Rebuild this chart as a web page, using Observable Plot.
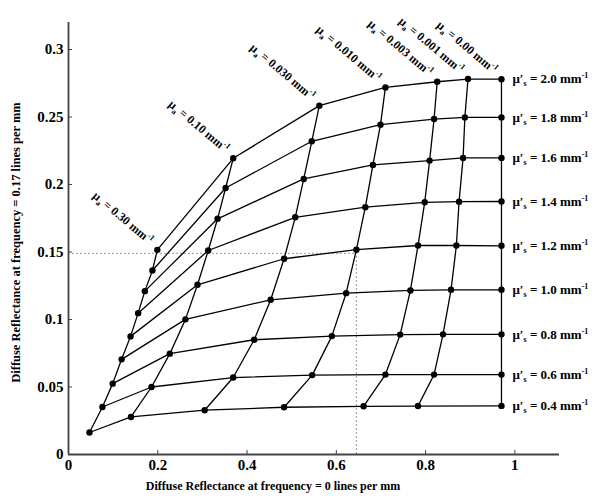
<!DOCTYPE html>
<html><head><meta charset="utf-8">
<script src="https://cdn.jsdelivr.net/npm/d3@7"></script>
<script src="https://cdn.jsdelivr.net/npm/@observablehq/plot@0.6"></script>
<style>body{margin:0;background:#fff}</style>
</head><body><div id="chart"></div>
<script>
// Reduced scattering coefficients (rows) and absorption coefficients (columns)
const muspValues = [0.4, 0.6, 0.8, 1.0, 1.2, 1.4, 1.6, 1.8, 2.0];
const muaLabels = ["0.30", "0.10", "0.030", "0.010", "0.003", "0.001", "0.00"];

// Diffuse reflectance at 0 lines/mm (x) and at 0.17 lines/mm (y), per mu_a column, mu's from 0.4 to 2.0
const x_mua030 = [0.047, 0.076, 0.099, 0.119, 0.139, 0.156, 0.171, 0.188, 0.199];
const y_mua030 = [0.0163, 0.0352, 0.0525, 0.0705, 0.0875, 0.1047, 0.121, 0.1363, 0.1516];
const x_mua010 = [0.140, 0.186, 0.227, 0.262, 0.289, 0.313, 0.334, 0.352, 0.369];
const y_mua010 = [0.0278, 0.050, 0.0747, 0.1001, 0.1257, 0.1511, 0.1746, 0.1974, 0.2194];
const x_mua0030 = [0.305, 0.369, 0.416, 0.453, 0.483, 0.508, 0.527, 0.545, 0.562];
const y_mua0030 = [0.0328, 0.057, 0.0850, 0.1146, 0.145, 0.1757, 0.2041, 0.232, 0.2584];
const x_mua0010 = [0.483, 0.546, 0.590, 0.622, 0.645, 0.665, 0.682, 0.699, 0.710];
const y_mua0010 = [0.0350, 0.0588, 0.0877, 0.1195, 0.1517, 0.1832, 0.2145, 0.2443, 0.2719];
const x_mua0003 = [0.661, 0.710, 0.743, 0.766, 0.783, 0.798, 0.809, 0.819, 0.826];
const y_mua0003 = [0.0357, 0.0592, 0.0888, 0.1215, 0.1548, 0.1868, 0.2177, 0.2485, 0.2761];
const x_mua0001 = [0.783, 0.819, 0.839, 0.857, 0.869, 0.875, 0.884, 0.888, 0.895];
const y_mua0001 = [0.0359, 0.0592, 0.089, 0.122, 0.1548, 0.1873, 0.2197, 0.2497, 0.2781];
const x_mua0000 = [0.970, 0.970, 0.970, 0.970, 0.970, 0.970, 0.970, 0.970, 0.970];
const y_mua0000 = [0.036, 0.0592, 0.089, 0.122, 0.1546, 0.1874, 0.2197, 0.2497, 0.278];

const xTicks = [0, 0.2, 0.4, 0.6, 0.8, 1];
const yTicks = [0, 0.05, 0.1, 0.15, 0.2, 0.25, 0.3];
const crossX = 0.645, crossY = 0.149;
const xTitle = "Diffuse Reflectance at frequency = 0 lines per mm";
const yTitle = "Diffuse Reflectance at frequency = 0.17 lines per mm";

const xCols = [x_mua030, x_mua010, x_mua0030, x_mua0010, x_mua0003, x_mua0001, x_mua0000];
const yCols = [y_mua030, y_mua010, y_mua0030, y_mua0010, y_mua0003, y_mua0001, y_mua0000];
const grid = [];
muaLabels.forEach((mua, i) => muspValues.forEach((musp, j) =>
  grid.push({mua, musp, x: xCols[i][j], y: yCols[i][j]})));

const plot = Plot.plot({
  width: 600, height: 496,
  marginLeft: 68, marginRight: 41, marginTop: 22, marginBottom: 42,
  style: {fontFamily: "'Liberation Serif', 'Times New Roman', serif", fontWeight: "bold", fontSize: "15px", background: "#fff", color: "#000"},
  x: {domain: [0, 1.1]},
  y: {domain: [0, 0.32]},
  marks: [
    Plot.ruleY([crossY], {x1: 0, x2: crossX, stroke: "#999", strokeDasharray: "2,2", strokeWidth: 1}),
    Plot.ruleX([crossX], {y1: 0, y2: crossY, stroke: "#999", strokeDasharray: "2,2", strokeWidth: 1}),
    Plot.line(grid, {x: "x", y: "y", z: "musp", stroke: "#000", strokeWidth: 1.3}),
    Plot.line(grid, {x: "x", y: "y", z: "mua", stroke: "#000", strokeWidth: 1.3}),
    Plot.dot(grid, {x: "x", y: "y", r: 3.2, fill: "#000", stroke: "none"}),
    Plot.text(grid.filter(d => d.mua === "0.00"), {x: "x", y: "y",
      text: d => `μ′s = ${d.musp.toFixed(1)} mm-1`, textAnchor: "start", dx: 11, fontSize: 13}),
    Plot.text(grid.filter(d => d.musp === 2.0), {x: "x", y: "y",
      text: d => `μa = ${d.mua} mm-1`, rotate: 40, textAnchor: "end", dx: -6, dy: -8, fontSize: 12}),
    Plot.ruleX([0], {stroke: "#444", strokeWidth: 1.8}),
    Plot.ruleY([0], {stroke: "#444", strokeWidth: 1.8}),
    Plot.axisX(xTicks, {tickSize: -4, tickPadding: 9, tickFormat: d => String(d), label: null, stroke: "#444"}),
    Plot.axisY(yTicks, {tickSize: -4, tickPadding: 9, tickFormat: d => String(d), label: null, stroke: "#444"}),
    Plot.text([xTitle], {frameAnchor: "bottom", textAnchor: "middle", lineAnchor: "middle", dx: -41, dy: 32, fontSize: 12}),
    Plot.text([yTitle], {frameAnchor: "left", textAnchor: "middle", lineAnchor: "middle", rotate: -90, dx: -53, dy: 4, fontSize: 12.5})
  ]
});

// Typeset subscripts and superscripts in the coefficient labels
const NS = "http://www.w3.org/2000/svg";
plot.querySelectorAll("text").forEach(t => {
  const m = /^(μ′?)([as]) = (.*) mm-1$/.exec(t.textContent);
  if (!m) return;
  while (t.firstChild) t.removeChild(t.firstChild);
  const add = (txt, attrs) => {
    const s = document.createElementNS(NS, "tspan");
    s.textContent = txt;
    for (const k in attrs) s.setAttribute(k, attrs[k]);
    t.appendChild(s);
  };
  add(m[1], {});
  add(m[2], {dy: 3, "font-size": 8});
  add(` = ${m[3]} mm`, {dy: -3});
  add("-1", {dy: -5, "font-size": 8});
});

document.getElementById("chart").appendChild(plot);
</script>
</body></html>
